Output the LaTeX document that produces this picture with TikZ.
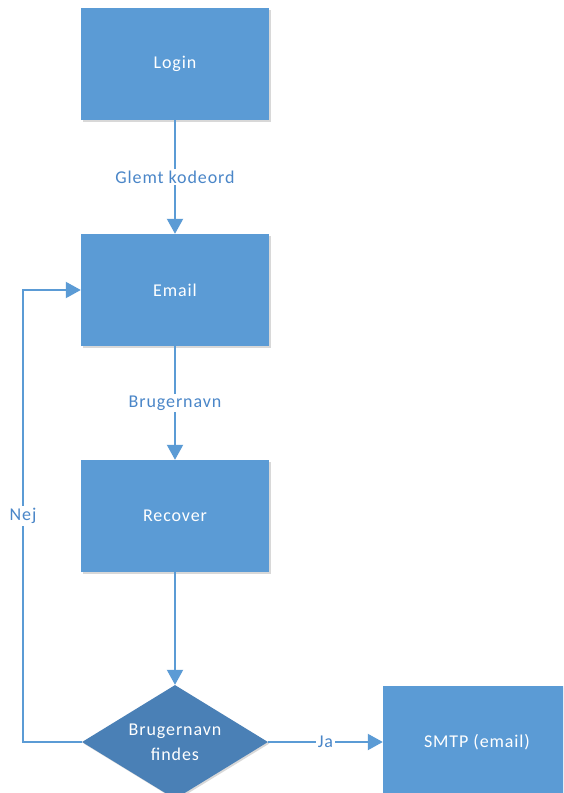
\documentclass[tikz,border=0pt]{standalone}
\usepackage{fontspec}
\setmainfont{Carlito}[LetterSpace=5]
\usetikzlibrary{arrows.meta,shapes.geometric,shadows}
\definecolor{boxblue}{HTML}{5B9BD5}
\definecolor{decblue}{HTML}{4A80B6}
\definecolor{lineblue}{HTML}{5B9BD5}
\definecolor{labelblue}{HTML}{4A86C8}
\tikzset{
  procbox/.style={draw=none, fill=boxblue, minimum width=188pt, minimum height=112pt,
    text=white, font=\fontsize{18}{20}\selectfont, inner sep=0pt,
    drop shadow={shadow xshift=1.5pt, shadow yshift=-1.5pt, opacity=0.25, fill=black!60}},
  decbox/.style={diamond, draw=none, fill=decblue, minimum width=186pt, minimum height=114pt,
    aspect=1.63, text=white, font=\fontsize{18}{25}\selectfont, inner sep=0pt, align=center,
    drop shadow={shadow xshift=1.5pt, shadow yshift=-1.5pt, opacity=0.25, fill=black!60}},
  flow/.style={draw=lineblue, line width=2pt, -{Triangle[length=15pt,width=16pt]}},
  flowlabel/.style={fill=white, text=labelblue, font=\fontsize{18}{20}\selectfont, inner sep=2pt}
}
\begin{document}
\begin{tikzpicture}[x=1pt,y=-1pt]
  \useasboundingbox (0,0) rectangle (563,793);
  \clip (0,0) rectangle (563,793);
  \fill[white] (0,0) rectangle (563,793);

  % process steps
  \node[procbox] (login)   at (175,64)  {Login};
  \node[procbox] (email)   at (175,290) {Email};
  \node[procbox] (recover) at (175,516) {Recover};
  \node[decbox]  (check)   at (175,742) {Brugernavn\\findes};
  \node[procbox] (smtp)    at (477,742) {SMTP (email)};

  % connectors
  \draw[flow] (login) -- node[flowlabel] {Glemt kodeord} (email);
  \draw[flow] (email) -- node[flowlabel] {Brugernavn} (recover);
  \draw[flow] (recover) -- (check);
  \draw[flow] (check.east) -- node[flowlabel] {Ja} (smtp.west);
  \coordinate (back) at (23,742);
  \draw[flow] (check.west) -- (back)
    -- node[flowlabel] {Nej} (back |- email.west) -- (email.west);
\end{tikzpicture}
\end{document}
